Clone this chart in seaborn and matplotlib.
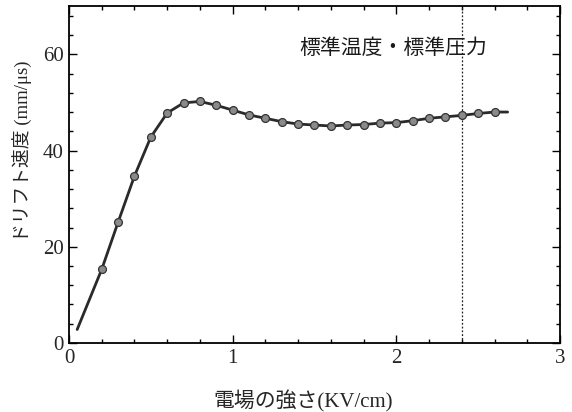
import numpy as np
import pandas as pd
import matplotlib
matplotlib.use("Agg")
import matplotlib.pyplot as plt
from matplotlib.ticker import MultipleLocator
import seaborn as sns


# ---------- data ----------
field_kv = [0.2, 0.3, 0.4, 0.5, 0.6, 0.7, 0.8, 0.9, 1.0, 1.1, 1.2, 1.3, 1.4,
            1.5, 1.6, 1.7, 1.8, 1.9, 2.0, 2.1, 2.2, 2.3, 2.4, 2.5, 2.6]
drift_v = [15.3, 25.1, 34.7, 42.8, 47.8, 49.9, 50.2, 49.4, 48.4, 47.4, 46.7, 46.0, 45.5,
           45.3, 45.1, 45.3, 45.4, 45.7, 45.8, 46.2, 46.7, 47.0, 47.3, 47.7, 48.0]
# curve extends a little beyond the measured points on both ends
curve_start = (0.05, 2.8)
curve_end = (2.68, 48.0)
fold_x = 2.4  # dotted crease visible in the scan

x_ticks = [0, 1, 2, 3]
y_ticks = [0, 20, 40, 60]

points = pd.DataFrame({"field": field_kv, "v": drift_v})
curve = pd.DataFrame({
    "field": [curve_start[0]] + field_kv + [curve_end[0]],
    "v": [curve_start[1]] + drift_v + [curve_end[1]],
})

# ---------- plot ----------
sns.set_theme(style="ticks")
plt.rcParams["font.family"] = ["Liberation Serif", "Noto Sans CJK JP", "DejaVu Sans"]

fig = plt.figure(figsize=(5.72, 4.12), dpi=100)
ax = fig.add_axes([0.1206, 0.1675, 0.8584, 0.8175])

ax.axvline(fold_x, color="#222222", lw=0.9, ls=(0, (1.5, 1.5)), zorder=1)

sns.lineplot(data=curve, x="field", y="v", ax=ax, color="#2a2a2a", lw=2.0,
             sort=True, zorder=2)
sns.scatterplot(data=points, x="field", y="v", ax=ax, s=32, color="#8a8a8a",
                edgecolor="#333333", linewidth=0.9, zorder=3)

ax.set_xlim(0, 3)
ax.set_ylim(0, 70)
ax.set_xticks(x_ticks)
ax.set_yticks(y_ticks)
ax.xaxis.set_minor_locator(MultipleLocator(0.2))
ax.yaxis.set_minor_locator(MultipleLocator(4))
ax.tick_params(which="both", direction="in", top=True, right=True,
               color="black", width=1.0)
ax.tick_params(which="major", length=6, labelsize=15, pad=4)
ax.tick_params(which="minor", length=3)
for sp in ax.spines.values():
    sp.set_color("black")
    sp.set_linewidth(1.3)

ax.set_xlabel("電場の強さ(KV/cm)", fontsize=15)
ax.set_ylabel("ドリフト速度 (mm/μs)", fontsize=13.5)
ax.xaxis.set_label_coords(0.477, -0.14)
ax.yaxis.set_label_coords(-0.075, 0.57)

ax.text(1.41, 61, "標準温度・標準圧力", fontsize=15, va="center", ha="left",
        color="#1a1a1a")

fig.savefig("out.png", dpi=100, facecolor="white")
